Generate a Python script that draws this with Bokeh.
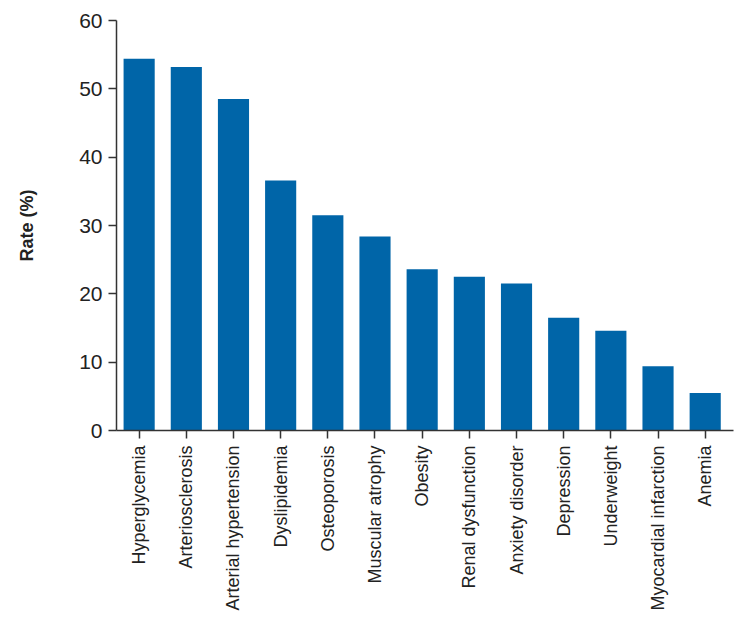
from bokeh.plotting import figure
from bokeh.models import Range1d, FixedTicker
from bokeh.embed import file_html
from bokeh.resources import INLINE

categories = ["Hyperglycemia", "Arteriosclerosis", "Arterial hypertension", "Dyslipidemia",
              "Osteoporosis", "Muscular atrophy", "Obesity", "Renal dysfunction",
              "Anxiety disorder", "Depression", "Underweight", "Myocardial infarction", "Anemia"]
rates = [54.4, 53.2, 48.5, 36.6, 31.5, 28.4, 23.6, 22.5, 21.5, 16.5, 14.6, 9.4, 5.5]
y_ticks = [0, 10, 20, 30, 40, 50, 60]

idx = list(range(len(categories)))

p = figure(width=736, height=614, output_backend="svg", toolbar_location=None,
           x_range=Range1d(-0.48, 12.6), y_range=Range1d(0, 60),
           min_border_left=116, min_border_right=3, min_border_top=20, min_border_bottom=184)

p.vbar(x=idx, top=rates, width=0.66, bottom=0, color="#0065A8", line_color=None)

p.xgrid.grid_line_color = None
p.ygrid.grid_line_color = None
p.outline_line_color = None

p.xaxis.ticker = FixedTicker(ticks=idx)
p.xaxis.major_label_overrides = {i: c for i, c in zip(idx, categories)}
p.xaxis.major_label_orientation = 1.5708
p.xaxis.major_label_text_font = "Liberation Sans"
p.xaxis.major_label_text_font_size = "18px"
p.xaxis.major_label_text_color = "#222222"
p.xaxis.major_label_standoff = 7

p.yaxis.ticker = FixedTicker(ticks=y_ticks)
p.yaxis.major_label_text_font = "Liberation Sans"
p.yaxis.major_label_text_font_size = "21px"
p.yaxis.major_label_text_color = "#222222"
p.yaxis.major_label_standoff = 6
p.yaxis.axis_label = "Rate (%)"
p.yaxis.axis_label_text_font = "Liberation Sans"
p.yaxis.axis_label_text_font_style = "bold"
p.yaxis.axis_label_text_font_size = "18px"
p.yaxis.axis_label_text_color = "#222222"
p.yaxis.axis_label_standoff = 39

for ax in (p.xaxis, p.yaxis):
    ax.axis_line_color = "#333333"
    ax.axis_line_width = 1.5
    ax.major_tick_line_color = "#333333"
    ax.major_tick_line_width = 1.5
    ax.major_tick_out = 8
    ax.major_tick_in = 0
    ax.minor_tick_line_color = None

html = file_html(p, INLINE)
open("out.html", "w").write(html)
